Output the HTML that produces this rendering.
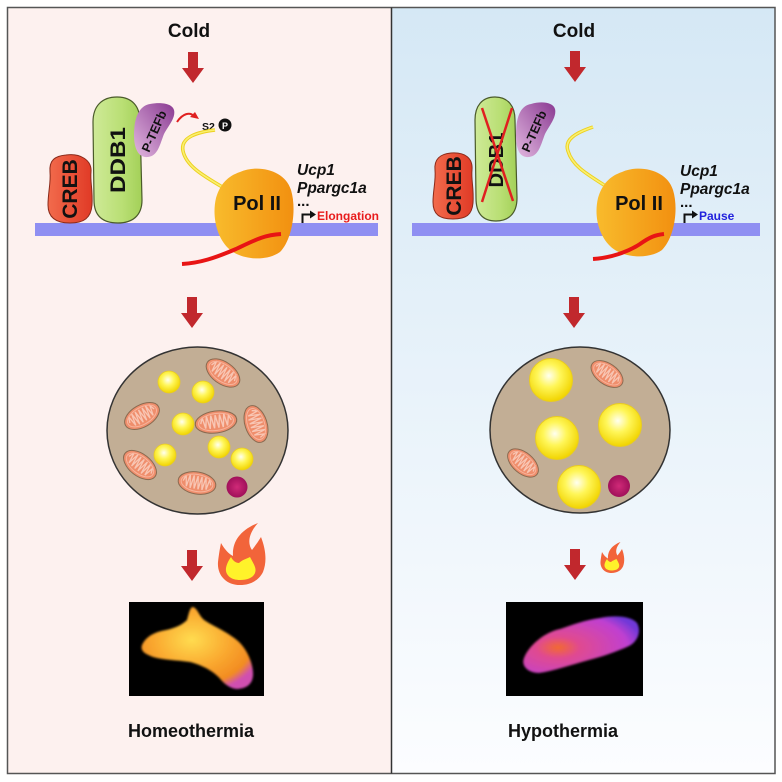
<!DOCTYPE html>
<html><head><meta charset="utf-8"><style>
html,body{margin:0;padding:0;background:#fff;}
svg{display:block;}
text{font-family:"Liberation Sans",Arial,sans-serif;}
</style></head><body>
<svg width="782" height="782" viewBox="0 0 782 782" xmlns="http://www.w3.org/2000/svg">
<defs>
<linearGradient id="rbg" x1="0" y1="0" x2="0" y2="1">
<stop offset="0" stop-color="#d5e8f5"/><stop offset="1" stop-color="#fcfdff"/>
</linearGradient>
<linearGradient id="pol" x1="0" y1="0" x2="1" y2="0">
<stop offset="0" stop-color="#f8bb2c"/><stop offset="1" stop-color="#f29010"/>
</linearGradient>
<linearGradient id="ddb" x1="0" y1="0" x2="1" y2="0">
<stop offset="0" stop-color="#cfea98"/><stop offset="0.6" stop-color="#b9df74"/><stop offset="1" stop-color="#a3d058"/>
</linearGradient>
<linearGradient id="creb" x1="0" y1="0" x2="1" y2="0">
<stop offset="0" stop-color="#f26b4c"/><stop offset="1" stop-color="#e03a26"/>
</linearGradient>
<linearGradient id="ptef" x1="1" y1="0" x2="0" y2="1">
<stop offset="0" stop-color="#8a3a92"/><stop offset="1" stop-color="#e2b8e0"/>
</linearGradient>
<radialGradient id="lip" cx="0.45" cy="0.4" r="0.6">
<stop offset="0" stop-color="#fffff0"/><stop offset="0.45" stop-color="#fff658"/><stop offset="1" stop-color="#f1d400"/>
</radialGradient>
<radialGradient id="gran" cx="0.5" cy="0.5" r="0.5">
<stop offset="0" stop-color="#d02a78"/><stop offset="1" stop-color="#a0105a"/>
</radialGradient>
<radialGradient id="th1" cx="0.45" cy="0.4" r="0.65">
<stop offset="0" stop-color="#ffdc50"/><stop offset="0.5" stop-color="#faaa30"/><stop offset="0.85" stop-color="#f28c22"/><stop offset="1" stop-color="#d050b0"/>
</radialGradient>
<radialGradient id="th2" cx="0.3" cy="0.55" r="0.75">
<stop offset="0" stop-color="#f26a30"/><stop offset="0.25" stop-color="#e04a90"/><stop offset="0.8" stop-color="#c040d0"/><stop offset="1" stop-color="#7038d8"/>
</radialGradient>
<filter id="soft" x="-20%" y="-20%" width="140%" height="140%"><feGaussianBlur stdDeviation="1.1"/></filter>
<g id="mito">
<ellipse cx="0" cy="0" rx="19" ry="11" fill="#ef8e6c" stroke="#8a6a50" stroke-width="1"/>
<polyline points="-14,0 -12,-6 -10,5 -8,-7 -6,6 -4,-7 -2,6 0,-7 2,6 4,-7 6,6 8,-7 10,5 12,-5 14,0" fill="none" stroke="#f8c6b4" stroke-width="1.3"/>
<ellipse cx="0" cy="0" rx="16" ry="8.5" fill="none" stroke="#f7b49c" stroke-width="1"/>
</g>
<g id="flame">
<path d="M 240 585 C 226 585 217 575 218 562 C 219 553 220 548 221 543 C 225 550 229 554 233 556 C 232 542 240 530 258 523 C 249 533 247 543 252 550 C 255 546 258 542 261 537 C 266 550 267 562 263 572 C 259 580 251 585 240 585 Z" fill="#f2643a"/>
<path d="M 240 580 C 231 580 225 575 226 568 C 227 563 229 560 231 557 C 233 561 236 563 239 563 C 242 560 246 559 250 557 C 253 563 257 568 255 573 C 253 578 247 580 240 580 Z" fill="#fff22a"/>
</g>
<path id="arr" d="M -5 0 L 5 0 L 5 16 L 11 16 L 0 31 L -11 16 L -5 16 Z" fill="#c1282d"/>
</defs>

<!-- panels -->
<rect x="7.5" y="7.5" width="384" height="766" fill="#fdf1ef"/>
<rect x="391.5" y="7.5" width="383.5" height="766" fill="url(#rbg)"/>
<rect x="7.5" y="7.5" width="767.5" height="766" fill="none" stroke="#555" stroke-width="1.5"/>
<line x1="391.5" y1="7.5" x2="391.5" y2="773.5" stroke="#333" stroke-width="1.5"/>

<!-- titles -->
<text x="189" y="37" font-size="19" font-weight="bold" text-anchor="middle" fill="#111">Cold</text>
<text x="574" y="37" font-size="19" font-weight="bold" text-anchor="middle" fill="#111">Cold</text>

<!-- arrows -->
<use href="#arr" x="193" y="52"/>
<use href="#arr" x="575" y="51"/>
<use href="#arr" x="192" y="297"/>
<use href="#arr" x="574" y="297"/>
<use href="#arr" x="192" y="550"/>
<use href="#arr" x="575" y="549"/>

<!-- ===== LEFT TOP ===== -->
<rect x="35" y="223" width="343" height="13" fill="#8f8ff2"/>
<path d="M 66 155 C 80 153 92 160 91 172 C 90 182 93 190 92 205 C 91 218 84 223 70 223 C 55 223 48 217 48 205 C 48 192 51 183 50 172 C 49 160 55 156 66 155 Z" fill="url(#creb)" stroke="#8a2a1a" stroke-width="1"/>
<text transform="translate(77,189) rotate(-90)" font-size="21" font-weight="bold" text-anchor="middle" fill="#111">CREB</text>
<path d="M 117 97 C 132 97 140 106 140 122 L 142 200 C 142 216 132 223 118 223 C 103 223 94 216 94 200 L 93 122 C 93 106 102 97 117 97 Z" fill="url(#ddb)" stroke="#4a5a2a" stroke-width="1.2"/>
<text transform="translate(125,160) rotate(-90)" font-size="21" font-weight="bold" text-anchor="middle" fill="#111" textLength="66" lengthAdjust="spacingAndGlyphs">DDB1</text>
<path d="M 150 104 C 160 102 172 103 174 110 C 176 118 168 126 164 134 C 160 144 158 156 148 157 C 138 158 134 148 134 135 C 134 120 138 106 150 104 Z" fill="url(#ptef)"/>
<text transform="translate(158,133) rotate(-66)" font-size="12.5" font-weight="bold" text-anchor="middle" fill="#111">P-TEFb</text>
<path d="M 177 122 C 183 113 190 112 194 116" fill="none" stroke="#e02020" stroke-width="2"/>
<path d="M 199 119 L 190 117 L 195 112 Z" fill="#e02020"/>
<text x="202" y="130" font-size="10.5" font-weight="bold" fill="#111">S2</text>
<circle cx="225" cy="125" r="6.5" fill="#111"/>
<text x="225" y="129" font-size="9" font-weight="bold" text-anchor="middle" fill="#fff">P</text>
<path d="M 215 130 C 198 132 180 137 183 151 C 186 165 200 174 224 188" fill="none" stroke="#ecd020" stroke-width="3.5"/>
<path d="M 215 130 C 198 132 180 137 183 151 C 186 165 200 174 224 188" fill="none" stroke="#faf070" stroke-width="1.6"/>
<path d="M 240 172 C 258 164 285 170 291 190 C 297 210 292 240 280 252 C 266 262 240 260 228 248 C 216 236 212 215 216 198 C 220 184 228 176 240 172 Z" fill="url(#pol)"/>
<text x="257" y="210" font-size="20" font-weight="bold" text-anchor="middle" fill="#111">Pol II</text>
<path d="M 182 264 C 200 263 215 258 236 249 C 255 240 264 235 281 234" fill="none" stroke="#e81414" stroke-width="4"/>
<text x="297" y="175" font-size="15.5" font-weight="bold" font-style="italic" fill="#111">Ucp1</text>
<text x="297" y="193" font-size="15.5" font-weight="bold" font-style="italic" fill="#111">Ppargc1a</text>
<text x="297" y="206" font-size="15" font-weight="bold" fill="#111">...</text>
<path d="M 302.5 223 L 302.5 214.5 L 311 214.5" fill="none" stroke="#111" stroke-width="2"/>
<path d="M 310 210.5 L 316 214.5 L 310 218.5 Z" fill="#111"/>
<text x="317" y="220" font-size="12" font-weight="bold" fill="#e81c1c">Elongation</text>

<!-- ===== RIGHT TOP ===== -->
<rect x="412" y="223" width="348" height="13" fill="#8f8ff2"/>
<path d="M 451 153 C 465 152 473 158 472 170 C 471 180 474 188 473 203 C 472 215 466 219 453 219 C 439 219 433 214 433 202 C 433 190 436 181 435 170 C 434 159 440 154 451 153 Z" fill="url(#creb)" stroke="#8a2a1a" stroke-width="1"/>
<text transform="translate(461,186) rotate(-90)" font-size="21" font-weight="bold" text-anchor="middle" fill="#111">CREB</text>
<path d="M 495 97 C 508 97 515 106 515 120 L 517 198 C 517 214 508 221 496 221 C 483 221 476 214 476 198 L 475 120 C 475 106 482 97 495 97 Z" fill="url(#ddb)" stroke="#4a5a2a" stroke-width="1.2"/>
<text transform="translate(503,160) rotate(-90)" font-size="20" font-weight="bold" text-anchor="middle" fill="#111" textLength="55" lengthAdjust="spacingAndGlyphs">DDB1</text>
<path d="M 482 108 L 513 201 M 512 108 L 482 202" stroke="#e02020" stroke-width="2.5" fill="none"/>
<path d="M 531 104 C 541 101 553 102 555 109 C 557 117 549 126 545 134 C 541 144 539 156 529 157 C 519 158 516 148 516 135 C 516 120 519 106 531 104 Z" fill="url(#ptef)"/>
<text transform="translate(538,133) rotate(-66)" font-size="12.5" font-weight="bold" text-anchor="middle" fill="#111">P-TEFb</text>
<path d="M 593 127 C 575 133 564 140 568 151 C 572 165 585 173 604 185" fill="none" stroke="#ecd020" stroke-width="3.5"/>
<path d="M 593 127 C 575 133 564 140 568 151 C 572 165 585 173 604 185" fill="none" stroke="#faf070" stroke-width="1.6"/>
<path d="M 622 172 C 640 164 667 170 673 190 C 679 210 674 238 662 250 C 648 260 622 258 610 246 C 598 234 594 215 598 198 C 602 184 610 176 622 172 Z" fill="url(#pol)"/>
<text x="639" y="210" font-size="20" font-weight="bold" text-anchor="middle" fill="#111">Pol II</text>
<path d="M 593 259 C 610 258 628 252 640 244 C 650 237 655 235 664 234" fill="none" stroke="#e81414" stroke-width="4"/>
<text x="680" y="176" font-size="15.5" font-weight="bold" font-style="italic" fill="#111">Ucp1</text>
<text x="680" y="194" font-size="15.5" font-weight="bold" font-style="italic" fill="#111">Ppargc1a</text>
<text x="680" y="207" font-size="15" font-weight="bold" fill="#111">...</text>
<path d="M 684.5 223 L 684.5 214.5 L 693 214.5" fill="none" stroke="#111" stroke-width="2"/>
<path d="M 692 210.5 L 698 214.5 L 692 218.5 Z" fill="#111"/>
<text x="699" y="220" font-size="12" font-weight="bold" fill="#2222dd">Pause</text>

<!-- ===== LEFT CELL ===== -->
<ellipse cx="197.5" cy="430.5" rx="90.5" ry="83.5" fill="#c2ae95" stroke="#333" stroke-width="1.5"/>
<use href="#mito" transform="translate(223,373) rotate(35)"/>
<use href="#mito" transform="translate(142,416) rotate(-30)"/>
<use href="#mito" transform="translate(216,422) rotate(-8) scale(1.1,1)"/>
<use href="#mito" transform="translate(256,424) rotate(72)"/>
<use href="#mito" transform="translate(140,465) rotate(38)"/>
<use href="#mito" transform="translate(197,483) rotate(10)"/>
<g fill="url(#lip)" stroke="#e9cc20" stroke-width="0.8">
<circle cx="169" cy="382" r="11"/>
<circle cx="203" cy="392" r="11"/>
<circle cx="183" cy="424" r="11"/>
<circle cx="219" cy="447" r="11"/>
<circle cx="165" cy="455" r="11"/>
<circle cx="242" cy="459" r="11"/>
</g>
<circle cx="237" cy="487" r="10.5" fill="url(#gran)"/>

<!-- ===== RIGHT CELL ===== -->
<ellipse cx="580" cy="430" rx="90" ry="83" fill="#c2ae95" stroke="#333" stroke-width="1.5"/>
<use href="#mito" transform="translate(607,374) rotate(35) scale(0.95)"/>
<use href="#mito" transform="translate(523,463) rotate(40) scale(0.95)"/>
<g fill="url(#lip)" stroke="#e9cc20" stroke-width="1">
<circle cx="551" cy="380" r="21.5"/>
<circle cx="557" cy="438" r="21.5"/>
<circle cx="620" cy="425" r="21.5"/>
<circle cx="579" cy="487" r="21.5"/>
</g>
<circle cx="619" cy="486" r="11" fill="url(#gran)"/>

<!-- flames -->
<use href="#flame"/>
<use href="#flame" transform="translate(491.5,280.5) scale(0.5)"/>

<!-- thermal images -->
<rect x="129" y="602" width="135" height="94" fill="#000"/>
<path d="M 142 645 C 146 636 155 632 166 630 C 175 628 182 625 187 620 C 189 613 190 607 193 607 C 197 608 199 615 203 619 C 210 625 225 630 238 641 C 248 650 254 666 253 676 C 252 685 246 688 238 689 C 231 689 226 685 222 681 C 216 673 205 666 190 662 C 176 660 163 660 153 657 C 145 654 140 651 142 645 Z" fill="url(#th1)" filter="url(#soft)"/>
<rect x="506" y="602" width="137" height="94" fill="#000"/>
<path d="M 524 658 C 529 645 545 632 560 629 C 572 625 585 620 600 618 C 615 615 631 616 637 623 C 642 632 637 642 629 646 C 616 652 601 657 589 660 C 571 665 553 671 539 673 C 527 673 521 665 524 658 Z" fill="url(#th2)" filter="url(#soft)"/>

<!-- labels -->
<text x="191" y="737" font-size="18" font-weight="bold" text-anchor="middle" fill="#111">Homeothermia</text>
<text x="563" y="737" font-size="18" font-weight="bold" text-anchor="middle" fill="#111">Hypothermia</text>
</svg>
</body></html>
